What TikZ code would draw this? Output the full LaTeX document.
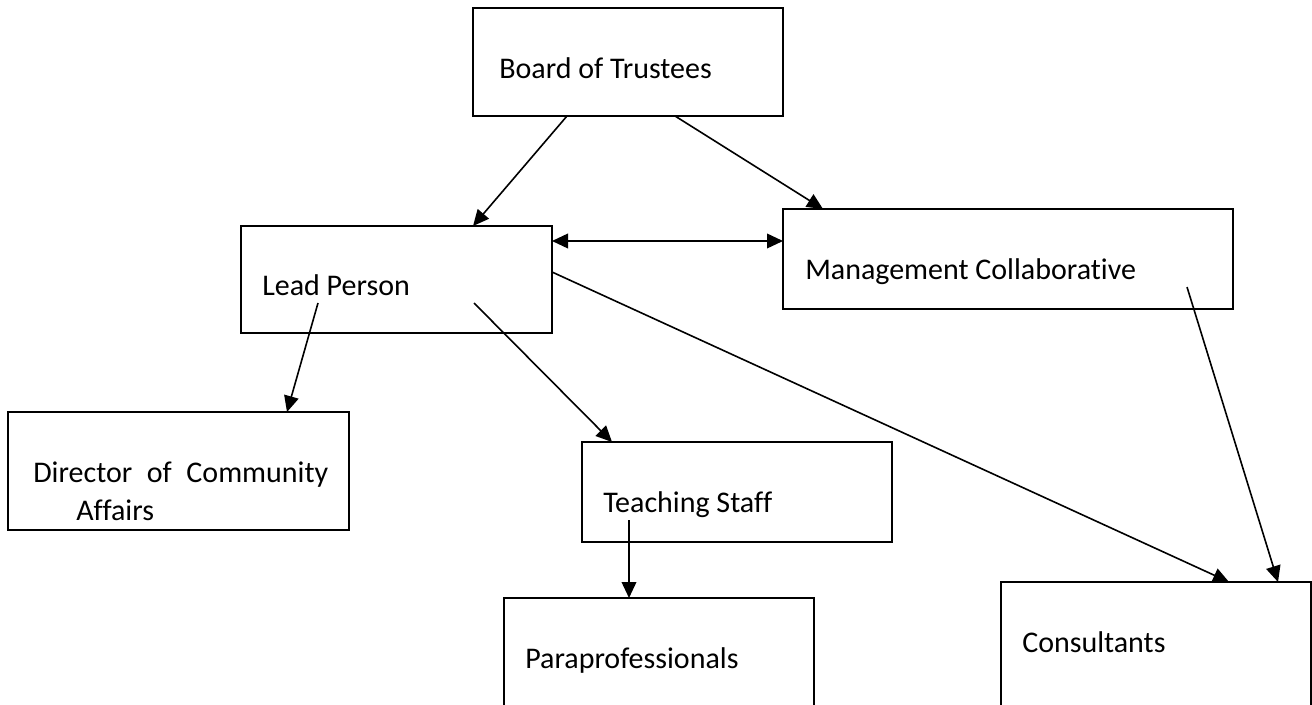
\documentclass[tikz,border=0pt]{standalone}
\usepackage{fontspec}
\setmainfont{Carlito}[Ligatures={NoCommon}]
\usetikzlibrary{arrows.meta}
\begin{document}
\begin{tikzpicture}[x=0.75pt,y=-0.75pt,
  box/.style={draw, line width=1.3pt, anchor=north west, inner sep=0pt, outer sep=0pt},
  lbl/.style={anchor=base west, inner sep=0pt, font=\fontsize{22.5}{27}\selectfont},
  >={Triangle[length=12pt,width=11pt]},
  conn/.style={line width=1.2pt, ->},
  dconn/.style={line width=1.2pt, <->}]
\useasboundingbox (0,0) rectangle (1312,705);
\clip (0,0) rectangle (1312,705);
\fill[white] (0,0) rectangle (1312,705);

% boxes
\node[box, minimum width=232.5pt, minimum height=81pt] (board) at (473,8) {};
\node[box, minimum width=233.25pt, minimum height=80.25pt] (lead) at (241,226) {};
\node[box, minimum width=337.5pt, minimum height=75pt] (mgmt) at (783,209) {};
\node[box, minimum width=255.75pt, minimum height=88.5pt] (dir) at (8,412) {};
\node[box, minimum width=232.5pt, minimum height=75pt] (teach) at (582,442) {};
\node[box, minimum width=232.5pt, minimum height=87.75pt] (para) at (504,598) {};
\node[box, minimum width=232.5pt, minimum height=99.75pt] (cons) at (1001,582) {};

% labels
\node[lbl] (tboard) at (499,79) {Board of Trustees};
\node[lbl] (tlead) at (262,296) {Lead Person};
\node[lbl] (tmgmt) at (805,280) {Management Collaborative};
\node[lbl] (tdir1) at (33,482) {\makebox[221.25pt][s]{Director of Community}};
\node[lbl] (tdir2) at (76,520) {Affairs};
\node[lbl] (tteach) at (603,512) {Teaching Staff};
\node[lbl] (tpara) at (525,668) {Paraprofessionals};
\node[lbl] (tcons) at (1022,652) {Consultants};

% connector end points
\coordinate (b1) at (567,116);
\coordinate (b2) at (675,116);
\coordinate (l0) at (473,226);
\coordinate (m0) at (823,209);
\coordinate (lr1) at (552,241);
\coordinate (ml1) at (783,241);
\coordinate (lr2) at (552,272);
\coordinate (c1) at (1229,582);
\coordinate (mi) at (1187,287);
\coordinate (c2) at (1278,582);
\coordinate (li1) at (318,303);
\coordinate (d0) at (287,412);
\coordinate (li2) at (474,303);
\coordinate (t0) at (612,442);
\coordinate (ti) at (629,520);
\coordinate (p0) at (629,598);

% connectors
\draw[conn] (b1) -- (l0);
\draw[conn] (b2) -- (m0);
\draw[dconn] (lr1) -- (ml1);
\draw[conn] (lr2) -- (c1);
\draw[conn] (mi) -- (c2);
\draw[conn] (li1) -- (d0);
\draw[conn] (li2) -- (t0);
\draw[conn] (ti) -- (p0);
\end{tikzpicture}
\end{document}
